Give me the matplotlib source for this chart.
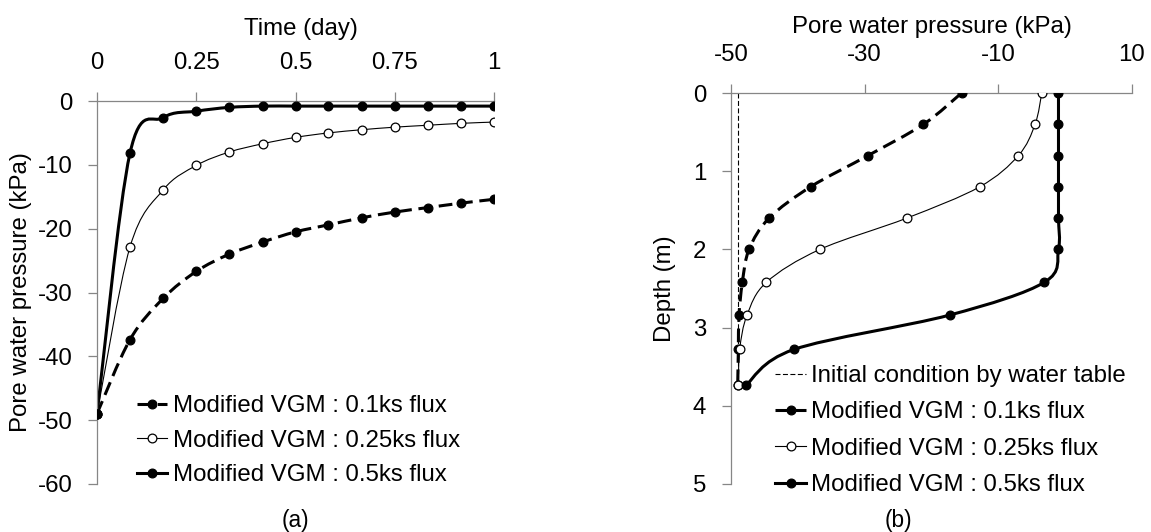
import numpy as np
import matplotlib.pyplot as plt
from matplotlib.path import Path
from matplotlib.patches import PathPatch
from matplotlib.lines import Line2D

plt.rcParams['font.family'] = ['Liberation Sans', 'DejaVu Sans']
plt.rcParams['axes.unicode_minus'] = False

# (a) pore water pressure at the surface vs time
time_day = [0, 0.083, 0.167, 0.25, 0.333, 0.417, 0.5, 0.583, 0.667, 0.75, 0.833, 0.917, 1.0]
pwp_01 = [-49, -37.4, -30.9, -26.7, -24.0, -22.1, -20.5, -19.4, -18.3, -17.4, -16.7, -16.0, -15.4]
pwp_025 = [-49, -22.9, -13.9, -10.1, -8.0, -6.7, -5.7, -5.0, -4.5, -4.1, -3.8, -3.5, -3.3]
pwp_05 = [-49, -8.2, -2.6, -1.6, -1.0, -0.8, -0.8, -0.8, -0.8, -0.8, -0.8, -0.8, -0.8]

# (b) pore water pressure profile vs depth
depth_m = [0, 0.4, 0.8, 1.2, 1.6, 2.0, 2.42, 2.84, 3.28, 3.74]
init_depth = [0, 3.74]
init_pwp = [-49, -49]
prof_01 = [-15.5, -21.2, -29.5, -38.1, -44.3, -47.3, -48.3, -48.8, -48.9, -49.0]
prof_025 = [-3.5, -4.5, -7.0, -12.8, -23.7, -36.7, -44.7, -47.6, -48.7, -48.9]
prof_05 = [-1.0, -1.0, -1.0, -1.0, -1.0, -1.0, -3.1, -17.3, -40.6, -47.8]

labels = ['Modified VGM : 0.1ks flux', 'Modified VGM : 0.25ks flux', 'Modified VGM : 0.5ks flux']

FS = 17.3
GRAY = '#868686'
W, H = 1151, 532


def smooth_path(x, y):
    """bezier path through the points, like excel's smoothed line"""
    pts = np.column_stack([x, y]).astype(float)
    n = len(pts)
    verts = [pts[0]]
    codes = [Path.MOVETO]
    for i in range(n - 1):
        p0 = pts[max(i - 1, 0)]
        p1 = pts[i]
        p2 = pts[i + 1]
        p3 = pts[min(i + 2, n - 1)]
        verts += [p1 + (p2 - p0) / 6., p2 - (p3 - p1) / 6., p2]
        codes += [Path.CURVE4] * 3
    return Path(verts, codes)


# line styles: (linewidth, dash, marker face)
styles = [
    dict(lw=2.2, ls=(0, (4.5, 2.2)), mfc='k'),
    dict(lw=0.8, ls='-', mfc='white'),
    dict(lw=2.2, ls='-', mfc='k'),
]


def draw_series(ax, x, y, st):
    patch = PathPatch(smooth_path(x, y), facecolor='none', edgecolor='k',
                      lw=st['lw'], linestyle=st['ls'], zorder=2, capstyle='butt')
    ax.add_patch(patch)
    ax.plot(x, y, ls='none', marker='o', ms=6.3, mfc=st['mfc'], mec='k', mew=0.9, zorder=3)


def proxy(st):
    return Line2D([], [], color='k', lw=st['lw'], ls=st['ls'], marker='o', ms=6.3,
                  mfc=st['mfc'], mec='k', mew=0.9)


def style_axis(ax, xpad, ypad):
    for s in ['bottom', 'right']:
        ax.spines[s].set_visible(False)
    for s in ['top', 'left']:
        ax.spines[s].set_color(GRAY)
        ax.spines[s].set_linewidth(0.9)
    ax.xaxis.tick_top()
    ax.tick_params(axis='x', which='both', direction='out', length=6.5, width=0.9,
                   color=GRAY, labelsize=FS, pad=xpad, top=True, bottom=False,
                   labeltop=True, labelbottom=False)
    ax.tick_params(axis='y', which='both', direction='out', length=6.5, width=0.9,
                   color=GRAY, labelsize=FS, pad=ypad, left=True, right=False)


fig = plt.figure(figsize=(W / 100., H / 100.), dpi=100)

# ---- (a)
ax1 = fig.add_axes([97 / W, 1 - 484 / H, 397 / W, 383 / H])
ax1.set_xlim(0, 1)
ax1.set_ylim(-60, 0)
style_axis(ax1, 13.0, 11.3)
ax1.set_xticks([0, 0.25, 0.5, 0.75, 1], ['0', '0.25', '0.5', '0.75', '1'])
ax1.set_yticks(range(-60, 1, 10))
for yv, st in zip([pwp_01, pwp_025, pwp_05], styles):
    draw_series(ax1, time_day, yv, st)
ax1.xaxis.set_label_position('top')
ax1.set_xlabel('Time (day)', fontsize=FS)
ax1.xaxis.label.set_va('center')
ax1.xaxis.set_label_coords(0.513, (484 - 29) / 383)
ax1.set_ylabel('Pore water pressure (kPa)', fontsize=FS)
ax1.yaxis.label.set_va('center')
ax1.yaxis.set_label_coords((21 - 97) / 397, 0.5)
ax1.legend([proxy(st) for st in styles], labels, loc='upper left', frameon=False,
           fontsize=FS, bbox_to_anchor=(137 / W, 1 - 395 / H), bbox_transform=fig.transFigure,
           borderpad=0, borderaxespad=0, handlelength=1.23, handletextpad=0.26,
           labelspacing=0.53)
fig.text(295 / W, 1 - 520 / H, '(a)', fontsize=FS - 1, ha='center', va='center')

# ---- (b)
ax2 = fig.add_axes([731 / W, 1 - 484 / H, 401 / W, 391 / H])
ax2.set_xlim(-50, 10)
ax2.set_ylim(5, 0)
style_axis(ax2, 13.0, 11.3)
ax2.set_xticks([-50, -30, -10, 10])
ax2.set_yticks(range(0, 6))
ax2.plot(init_pwp, init_depth, color='k', lw=0.8, ls=(0, (4.5, 2.2)), zorder=1)
for xv, st in zip([prof_01, prof_025, prof_05], styles):
    draw_series(ax2, xv, depth_m, st)
ax2.xaxis.set_label_position('top')
ax2.set_xlabel('Pore water pressure (kPa)', fontsize=FS)
ax2.xaxis.label.set_va('center')
ax2.xaxis.set_label_coords(0.5, (484 - 27) / 391)
ax2.set_ylabel('Depth (m)', fontsize=FS)
ax2.yaxis.label.set_va('center')
ax2.yaxis.set_label_coords((665 - 731) / 401, 0.5)
init_proxy = Line2D([], [], color='k', lw=0.8, ls=(0, (4.5, 2.2)))
ax2.legend([init_proxy] + [proxy(st) for st in styles],
           ['Initial condition by water table'] + labels, loc='upper left', frameon=False,
           fontsize=FS, bbox_to_anchor=(775 / W, 1 - 365 / H), bbox_transform=fig.transFigure,
           borderpad=0, borderaxespad=0, handlelength=1.3, handletextpad=0.18,
           labelspacing=0.6)
fig.text(898 / W, 1 - 520 / H, '(b)', fontsize=FS - 1, ha='center', va='center')

fig.savefig('out.png', dpi=100, facecolor='white')
